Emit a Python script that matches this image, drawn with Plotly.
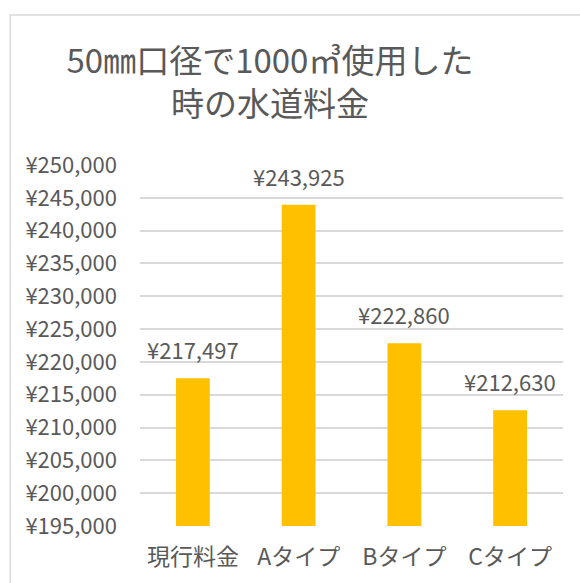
import plotly.graph_objects as go

categories = ["現行料金", "Aタイプ", "Bタイプ", "Cタイプ"]
values = [217497, 243925, 222860, 212630]
title_text = "50㎜口径で1000㎥使用した<br>時の水道料金"

FONT = "Noto Sans CJK JP"
TXT = "#595959"

fig = go.Figure(go.Bar(
    x=categories, y=values,
    marker=dict(color="#FFC000", line=dict(width=0)),
    width=0.32,
))

for c, v in zip(categories, values):
    fig.add_annotation(x=c, y=v, text=f"¥{v:,}", showarrow=False,
                       yanchor="bottom", yshift=11,
                       font=dict(family=FONT, size=22, color=TXT))

fig.add_shape(type="rect", xref="paper", yref="paper",
              x0=(10 - 140) / 424, x1=1.5, y0=-0.6, y1=(526 - 15) / 361,
              line=dict(color="#D9D9D9", width=1.5), fillcolor="rgba(0,0,0,0)",
              layer="below")

fig.update_layout(
    width=580, height=583,
    margin=dict(l=140, r=17, t=165, b=57),
    paper_bgcolor="white", plot_bgcolor="white",
    showlegend=False,
    title=dict(text=title_text, x=270 / 580, xanchor="center",
               y=1 - 73 / 583, yanchor="top",
               font=dict(family=FONT, size=33, color=TXT)),
    font=dict(family=FONT, color=TXT),
    xaxis=dict(showgrid=False, showline=False, ticks="",
               tickfont=dict(family=FONT, size=23, color=TXT),
               ticklabelstandoff=15),
    yaxis=dict(range=[195000, 250000], dtick=5000, tick0=195000,
               tickprefix="¥", tickformat=",d",
               showgrid=True, gridcolor="#D9D9D9", gridwidth=1.5,
               zeroline=False, showline=False, ticks="",
               tickfont=dict(family=FONT, size=22, color=TXT),
               ticklabelstandoff=22),
)

fig.write_html("out.html", config={"displayModeBar": False},
               post_script="document.body.style.margin='0';")
